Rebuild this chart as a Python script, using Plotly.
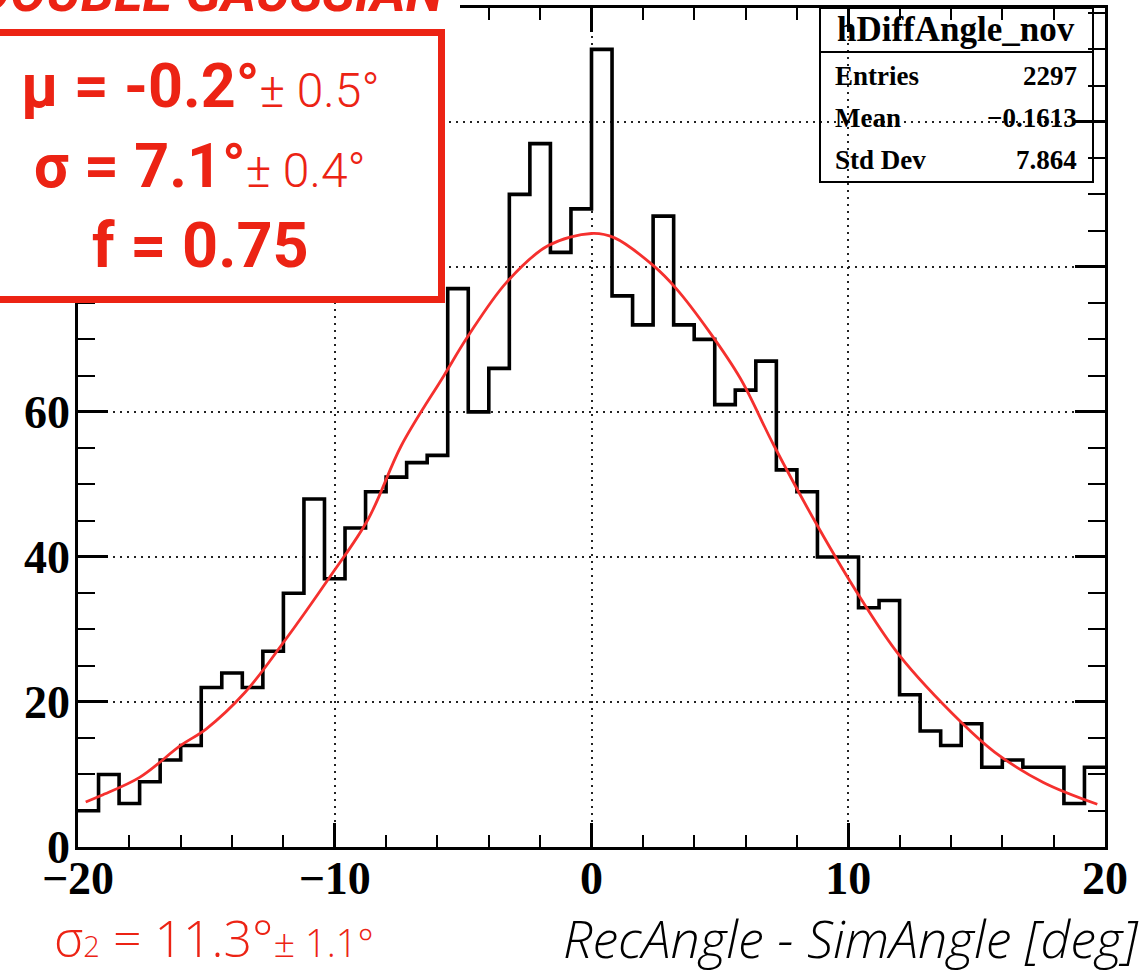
import numpy as np
import plotly.graph_objects as go

# ---------------- data ----------------
bin_low = -20.0
bin_high = 20.0
n_bins = 50
counts = [5, 10, 6, 9, 12, 14, 22, 24, 22, 27,
          35, 48, 37, 44, 49, 51, 53, 54, 77, 60,
          66, 90, 97, 82, 88, 110, 76, 72, 87, 72,
          70, 61, 63, 67, 52, 49, 40, 40, 33, 34,
          21, 16, 14, 17, 11, 12, 11, 11, 6, 11]

fit_x = [-19.7, -19.1, -17.6, -16.0, -15.0, -13.5, -12.0, -10.2, -8.7, -7.4,
         -5.75, -4.8, -3.3, -1.7, 0.0, 0.9, 2.4, 3.3, 4.6, 5.8,
         7.1, 8.8, 10.5, 12.0, 14.4, 15.7, 17.6, 19.7]
fit_y = [6.2, 7.1, 9.6, 14.0, 16.3, 21.3, 28.2, 37.2, 45.2, 55.4,
         65.0, 70.5, 77.9, 82.9, 84.6, 84.0, 80.2, 77.0, 71.0, 64.6,
         55.4, 44.3, 34.2, 26.4, 17.2, 13.1, 8.9, 5.9]

stats_name = "hDiffAngle_nov"
stats_labels = ["Entries", "Mean", "Std Dev"]
stats_values = ["2297", "\u22120.1613", "7.864"]

fit_title = "DOUBLE GAUSSIAN"
fit_mu = ("μ = -0.2°", "± 0.5°")
fit_sigma = ("σ = 7.1°", "± 0.4°")
fit_f = "f = 0.75"
fit_sigma2 = ("σ", "2", " = 11.3°", "± 1.1°")
x_title = "RecAngle - SimAngle [deg]"

y_max = 115.7

# ---------------- layout helpers ----------------
W, H = 1143, 971
ML, MR, MT, MB = 78, 38, 8, 124
PW, PH = W - ML - MR, H - MT - MB


def px(x):
    return (x - ML) / PW


def py(y):
    return (H - MB - y) / PH


RED = "#ec2314"
SERIF = "Liberation Serif"
SANS = "Roboto"
SANS2 = "Open Sans"

edges = np.linspace(bin_low, bin_high, n_bins + 1)
step_y = list(counts) + [counts[-1]]

fig = go.Figure()
fig.add_trace(go.Scatter(x=edges, y=step_y, mode="lines", line_shape="hv",
                         line=dict(color="black", width=3.6),
                         hoverinfo="skip", showlegend=False))
fig.add_trace(go.Scatter(x=fit_x, y=fit_y, mode="lines", line_shape="spline",
                         line=dict(color="#f5302e", width=2.8),
                         hoverinfo="skip", showlegend=False))

axis_common = dict(
    showline=True, linecolor="black", linewidth=2.5, mirror="ticks",
    ticks="inside", tickcolor="black", tickwidth=2.5,
    showgrid=True, gridcolor="#222222", griddash="2px,5px", gridwidth=1.6,
    zeroline=False, automargin=False,
    tickfont=dict(family=SERIF, size=46, color="black", weight="bold"),
)

fig.update_layout(
    width=W, height=H,
    margin=dict(l=ML, r=MR, t=MT, b=MB, pad=0, autoexpand=False),
    paper_bgcolor="white", plot_bgcolor="white",
    xaxis=dict(range=[bin_low, bin_high], dtick=10, tick0=0, ticklen=24,
               minor=dict(dtick=2, ticklen=12, tickwidth=2, tickcolor="black",
                          ticks="inside", showgrid=False),
               ticklabelstandoff=-11, **axis_common),
    yaxis=dict(range=[0, y_max], dtick=20, tick0=0, ticklen=30,
               minor=dict(dtick=5, ticklen=17, tickwidth=2, tickcolor="black",
                          ticks="inside", showgrid=False),
               ticklabelstandoff=-4, **axis_common),
)

shapes = []
# white patch behind the cropped title
shapes.append(dict(type="rect", xref="paper", yref="paper",
                   x0=px(-10), x1=px(460), y0=py(29), y1=py(-10),
                   fillcolor="white", line=dict(width=0), layer="above"))
# red result box
shapes.append(dict(type="rect", xref="paper", yref="paper",
                   x0=px(-20), x1=px(441.5), y0=py(299.5), y1=py(32.5),
                   fillcolor="white", line=dict(color=RED, width=7), layer="above"))
# stats box
shapes.append(dict(type="rect", xref="paper", yref="paper",
                   x0=px(820), x1=px(1093), y0=py(182), y1=py(8),
                   fillcolor="rgba(0,0,0,0)", line=dict(color="black", width=2),
                   layer="above"))
shapes.append(dict(type="line", xref="paper", yref="paper",
                   x0=px(820), x1=px(1093), y0=py(52), y1=py(52),
                   line=dict(color="black", width=2), layer="above"))
fig.update_layout(shapes=shapes)


def mid(baseline, size):
    return py(baseline - 0.345 * size)


ann = []
ann.append(dict(text="<i>" + fit_title + "</i>", x=px(446), y=mid(11, 54),
                xanchor="right", yanchor="middle",
                font=dict(family=SANS, size=54, color=RED, weight="bold")))
for (big, small), base in ((fit_mu, 107), (fit_sigma, 187)):
    ann.append(dict(text=big + "<span style='font-size:48px;font-weight:300'>" + small + "</span>",
                    x=px(200), y=mid(base, 61), xanchor="center", yanchor="middle",
                    font=dict(family=SANS, size=61, color=RED, weight="bold")))
ann.append(dict(text=fit_f, x=px(200), y=mid(267, 63), xanchor="center", yanchor="middle",
                font=dict(family=SANS, size=63, color=RED, weight="bold")))
ann.append(dict(text=fit_sigma2[0] + "<span style='font-size:29px'>" + fit_sigma2[1] + "</span>"
                + fit_sigma2[2] + "<span style='font-size:38px'>" + fit_sigma2[3] + "</span>",
                x=px(52), y=mid(955, 50), xanchor="left", yanchor="middle",
                font=dict(family=SANS2, size=50, color=RED, weight=300)))
ann.append(dict(text="<i>" + x_title + "</i>", x=px(1141), y=mid(955, 52),
                xanchor="right", yanchor="middle",
                font=dict(family=SANS2, size=52, color="black", weight=300)))
# stats box texts
ann.append(dict(text=stats_name, x=px(956), y=mid(42, 35), xanchor="center", yanchor="middle",
                font=dict(family=SERIF, size=35, color="black", weight="bold")))
for i, (lab, val) in enumerate(zip(stats_labels, stats_values)):
    base = 85 + i * 42
    ann.append(dict(text=lab, x=px(833), y=mid(base, 27), xanchor="left", yanchor="middle",
                    font=dict(family=SERIF, size=27, color="black", weight="bold")))
    ann.append(dict(text=val, x=px(1079), y=mid(base, 27), xanchor="right", yanchor="middle",
                    font=dict(family=SERIF, size=27, color="black", weight="bold")))
for a in ann:
    a.update(xref="paper", yref="paper", showarrow=False)
fig.update_layout(annotations=ann)

fig.write_html("out.html", config={"displayModeBar": False},
               post_script="document.body.style.margin='0px';")
